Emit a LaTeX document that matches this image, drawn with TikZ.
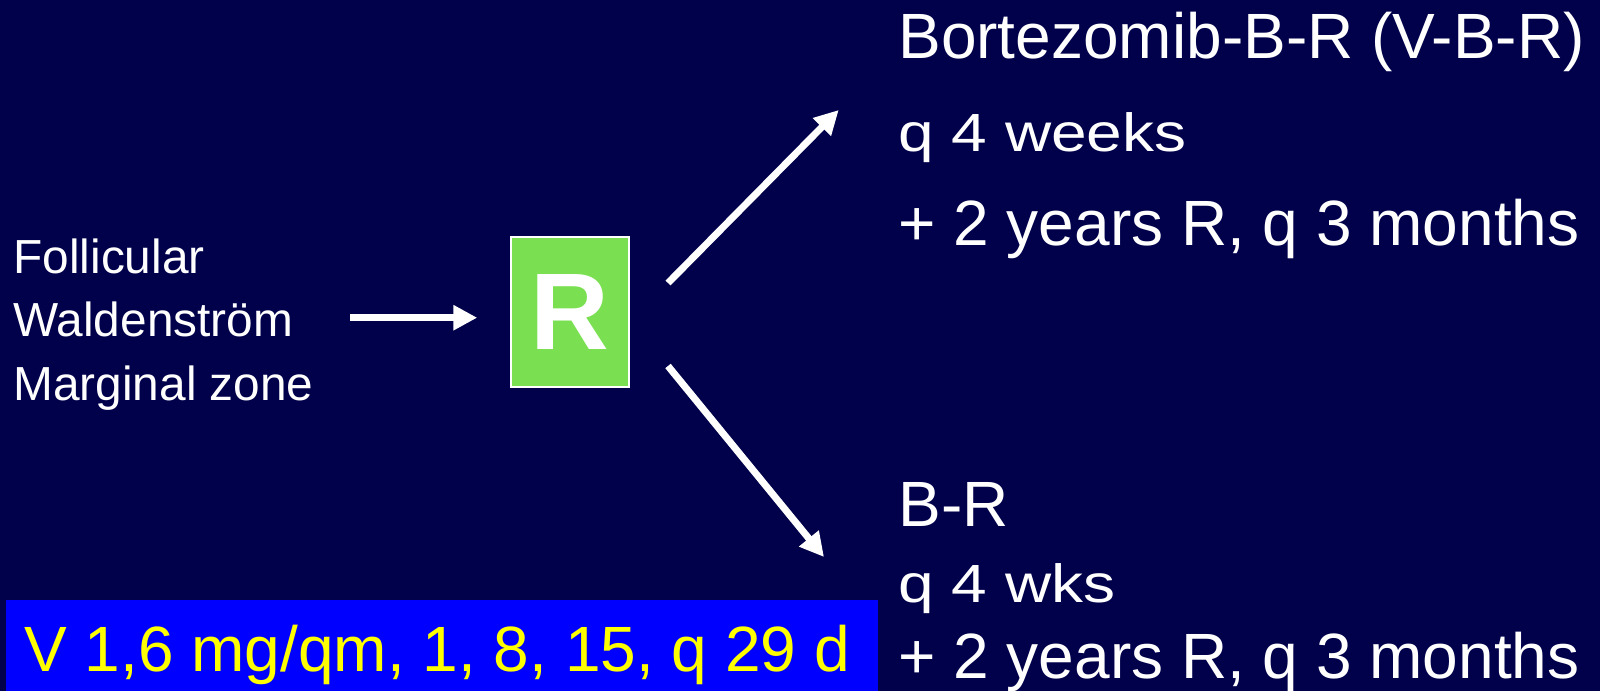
\documentclass[tikz,border=0pt]{standalone}
\usepackage{fontspec}
\usepackage{graphicx}
\setmainfont{Liberation Sans}
\usetikzlibrary{arrows.meta}

\definecolor{slidebg}{RGB}{0,0,75}
\definecolor{boxgreen}{RGB}{122,224,82}
\definecolor{notebg}{RGB}{0,0,255}
\definecolor{noteyellow}{RGB}{255,255,0}

\begin{document}
\begin{tikzpicture}[x=0.5pt,y=-0.5pt,
  lbl/.style={anchor=base west, inner sep=0pt, text=white,
    font=\fontsize{32}{32}\selectfont},
  side/.style={anchor=base west, inner sep=0pt, text=white,
    font=\fontsize{23.9}{23.9}\selectfont},
  arr/.style={white, line width=3.5pt, -{Triangle[length=12pt,width=12pt]}},
  rbox/.style={draw=white, line width=0.75pt, fill=boxgreen,
    minimum width=59pt, minimum height=75pt, inner sep=0pt, text=white,
    font=\bfseries\fontsize{54.5}{54.5}\selectfont},
]
% slide background
\fill[slidebg] (0,0) rectangle (1600,691);
\useasboundingbox (0,0) rectangle (1600,691);

% entities on the left
\node[side] (f1) at (13,273.3) {Follicular};
\node[side] (f2) at (13,336.7) {Waldenström};
\node[side] (f3) at (13,400) {Marginal zone};

% randomisation box
\node[rbox] (R) at (570,312) {R};

% arm descriptions
\node[lbl] (t1) at (898,58.3) {Bortezomib-B-R (V-B-R)};
\node[lbl] (t2) at (898,151.7) {\scalebox{1}[0.84]{q 4 weeks}};
\node[lbl] (t3) at (898,245) {+ 2 years R, q 3 months};
\node[lbl] (b1) at (898,526.7) {B-R};
\node[lbl] (b2) at (898,602) {\scalebox{1}[0.84]{q 4 wks}};
\node[lbl] (b3) at (898,678.3) {+ 2 years R, q 3 months};

% dosing note
\node[fill=notebg, minimum width=436pt, minimum height=45.5pt, inner sep=0pt,
  anchor=north west] (note) at (6,600) {};
\node[anchor=base west, inner sep=0pt, text=noteyellow,
  font=\fontsize{32}{32}\selectfont] (notetext) at (24,671.7)
  {V 1,6 mg/qm, 1, 8, 15, q 29 d};

% arrows
\coordinate (inS) at (350,317.7);
\draw[arr, shorten >=16.5pt] (inS) -- (inS -| R.west);

\coordinate (upS) at (668,283);
\coordinate (upT) at (838.7,110);
\draw[arr] (upS) -- (upT);

\coordinate (dnS) at (668,366);
\coordinate (dnT) at (824,557);
\draw[arr] (dnS) -- (dnT);
\end{tikzpicture}
\end{document}
